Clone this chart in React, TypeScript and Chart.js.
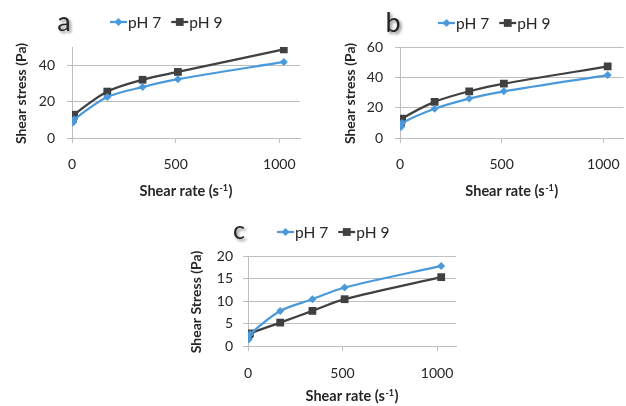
import { useEffect, useRef } from "react";
import { Chart, registerables } from "chart.js";

Chart.register(...registerables);

// ---- data ----
const shearRates = [5.1, 10.2, 170.3, 340.6, 510.9, 1021.8];
const seriesNames = ["pH 7", "pH 9"];
const aPH7 = [8.5, 10.2, 22.5, 28.0, 32.3, 41.8];
const aPH9 = [11.0, 12.8, 25.5, 32.0, 36.3, 48.7];
const bPH7 = [7.3, 9.9, 19.3, 26.0, 30.8, 41.5];
const bPH9 = [10.3, 12.7, 23.8, 30.8, 35.8, 47.2];
const cPH7 = [1.5, 2.6, 7.8, 10.4, 13.0, 17.8];
const cPH9 = [2.6, 2.8, 5.2, 7.8, 10.4, 15.3];
const xTicks = [0, 500, 1000];
const aYTicks = [0, 20, 40];
const bYTicks = [0, 20, 40, 60];
const cYTicks = [0, 5, 10, 15, 20];
const panelLetters = ["a", "b", "c"];
const yTitles = ["Shear stress (Pa)", "Shear stress (Pa)", "Shear Stress (Pa)"];
const xTitleParts = ["Shear rate (s", "-1", ")"];

const BLUE = "#4A9ADB";
const GRAY = "#404040";
const GRID = "#BFBFBF";
const TEXT = "#262626";
const FONT = "Lato";

type Geo = {
  left: number; top: number; width: number; height: number;
  padL: number; padT: number; padR: number; padB: number;
  yW: number; xH: number; yPad: number; xPad: number;
  letterX: number; letterY: number; letterSize: number;
  legendX: number; legendY: number;
  yTitleOff: number; xTitleOff: number;
};

function drawMarker(ctx: CanvasRenderingContext2D, style: string, x: number, y: number, color: string) {
  ctx.fillStyle = color;
  ctx.beginPath();
  if (style === "rectRot") {
    const r = 4;
    ctx.moveTo(x, y - r); ctx.lineTo(x + r, y); ctx.lineTo(x, y + r); ctx.lineTo(x - r, y);
    ctx.closePath();
  } else {
    const s = 3.9;
    ctx.rect(x - s, y - s, 2 * s, 2 * s);
  }
  ctx.fill();
}

function Panel(props: { p7: number[]; p9: number[]; yMax: number; yTicks: number[]; idx: number; geo: Geo }) {
  const ref = useRef<HTMLCanvasElement>(null);
  const { p7, p9, yMax, yTicks, idx, geo } = props;
  useEffect(() => {
    if (!ref.current) return;
    const styles = ["rectRot", "rect"];
    const colors = [BLUE, GRAY];
    const decor = {
      id: "decor" + idx,
      afterDraw(chart: any) {
        const ctx: CanvasRenderingContext2D = chart.ctx;
        const ca = chart.chartArea;
        ctx.save();
        // legend
        let lx = geo.legendX - geo.left;
        const ly = geo.legendY - geo.top;
        ctx.font = `15.5px ${FONT}`;
        ctx.textBaseline = "middle";
        ctx.textAlign = "left";
        seriesNames.forEach((name, i) => {
          ctx.strokeStyle = colors[i];
          ctx.lineWidth = 2.25;
          ctx.beginPath();
          ctx.moveTo(lx, ly);
          ctx.lineTo(lx + 17, ly);
          ctx.stroke();
          drawMarker(ctx, styles[i], lx + 8.5, ly, colors[i]);
          ctx.fillStyle = TEXT;
          ctx.fillText(name, lx + 18, ly + 1);
          lx += 18 + ctx.measureText(name).width + 10;
        });
        // panel letter with shadow
        ctx.save();
        ctx.shadowColor = "rgba(0,0,0,0.45)";
        ctx.shadowBlur = 3;
        ctx.shadowOffsetX = 2;
        ctx.shadowOffsetY = 2;
        ctx.font = `${geo.letterSize}px ${FONT}`;
        ctx.textAlign = "center";
        ctx.textBaseline = "alphabetic";
        ctx.fillStyle = TEXT;
        ctx.fillText(panelLetters[idx], geo.letterX - geo.left, geo.letterY - geo.top);
        ctx.restore();
        // y title
        ctx.save();
        ctx.translate(ca.left - geo.yTitleOff, (ca.top + ca.bottom) / 2 + 1);
        ctx.rotate(-Math.PI / 2);
        ctx.font = `bold 14px ${FONT}`;
        ctx.textAlign = "center";
        ctx.textBaseline = "middle";
        ctx.fillStyle = TEXT;
        ctx.fillText(yTitles[idx], 0, 0);
        ctx.restore();
        // x title with superscript
        const big = `bold 14.5px ${FONT}`;
        const small = `bold 9px ${FONT}`;
        ctx.font = big;
        const w1 = ctx.measureText(xTitleParts[0]).width;
        const w3 = ctx.measureText(xTitleParts[2]).width;
        ctx.font = small;
        const w2 = ctx.measureText(xTitleParts[1]).width;
        const total = w1 + w2 + w3 + 1;
        let tx = (ca.left + ca.right) / 2 - total / 2;
        const by = ca.bottom + geo.xTitleOff;
        ctx.textAlign = "left";
        ctx.textBaseline = "alphabetic";
        ctx.fillStyle = TEXT;
        ctx.font = big;
        ctx.fillText(xTitleParts[0], tx, by);
        tx += w1 + 0.5;
        ctx.font = small;
        ctx.fillText(xTitleParts[1], tx, by - 5.5);
        tx += w2 + 0.5;
        ctx.font = big;
        ctx.fillText(xTitleParts[2], tx, by);
        ctx.restore();
      },
    };
    const mk = (vals: number[]) => shearRates.map((x, i) => ({ x, y: vals[i] }));
    const chart = new Chart(ref.current, {
      type: "scatter",
      data: {
        datasets: [
          {
            label: seriesNames[0], data: mk(p7), showLine: true,
            borderColor: BLUE, backgroundColor: BLUE, borderWidth: 2.25,
            pointStyle: "rectRot", pointRadius: 4, pointBorderWidth: 0,
            tension: 0.3,
          },
          {
            label: seriesNames[1], data: mk(p9), showLine: true,
            borderColor: GRAY, backgroundColor: GRAY, borderWidth: 2.25,
            pointStyle: "rect", pointRadius: 5.5, pointBorderWidth: 0,
            tension: 0.3,
          },
        ],
      } as any,
      options: {
        animation: false,
        responsive: false,
        events: [],
        layout: { padding: { left: geo.padL, top: geo.padT, right: geo.padR, bottom: geo.padB } },
        plugins: { legend: { display: false }, tooltip: { enabled: false }, title: { display: false } },
        scales: {
          x: {
            type: "linear", min: 0, max: 1100,
            afterBuildTicks: (s: any) => { s.ticks = xTicks.map((v) => ({ value: v })); },
            afterFit: (s: any) => { s.height = geo.xH; },
            grid: { drawOnChartArea: false, drawTicks: true, tickLength: 5, color: GRID },
            border: { display: true, color: GRID },
            ticks: {
              padding: geo.xPad, font: { family: FONT, size: 14 }, color: TEXT, maxRotation: 0, autoSkip: false,
              callback: (v: any) => String(v),
            },
          },
          y: {
            type: "linear", min: 0, max: yMax,
            afterBuildTicks: (s: any) => { s.ticks = yTicks.map((v) => ({ value: v })); },
            afterFit: (s: any) => { s.width = geo.yW; },
            grid: { color: GRID, tickLength: 5 },
            border: { display: true, color: GRID },
            ticks: { padding: geo.yPad, font: { family: FONT, size: 14 }, color: TEXT, callback: (v: any) => String(v) },
          },
        },
      } as any,
      plugins: [decor as any],
    });
    return () => chart.destroy();
  }, []);
  return (
    <canvas
      ref={ref}
      width={geo.width}
      height={geo.height}
      style={{ position: "absolute", left: geo.left, top: geo.top, width: geo.width, height: geo.height }}
    />
  );
}

const geoA: Geo = {
  left: 0, top: 0, width: 313, height: 215,
  padL: 0, padT: 47, padR: 13, padB: 37, yW: 72, xH: 40, yPad: 12, xPad: 13,
  letterX: 64, letterY: 31, letterSize: 27, legendX: 110, legendY: 22,
  yTitleOff: 51, xTitleOff: 58,
};
const geoB: Geo = {
  left: 313, top: 0, width: 320, height: 215,
  padL: 0, padT: 47, padR: 5, padB: 37, yW: 87, xH: 40, yPad: 12, xPad: 13,
  letterX: 393, letterY: 32, letterSize: 27, legendX: 438, legendY: 23,
  yTitleOff: 50, xTitleOff: 58,
};
const geoC: Geo = {
  left: 160, top: 210, width: 320, height: 196,
  padL: 0, padT: 46, padR: 24, padB: 20, yW: 88, xH: 40, yPad: 10, xPad: 14,
  letterX: 239, letterY: 239, letterSize: 25, legendX: 277, legendY: 232,
  yTitleOff: 52, xTitleOff: 55,
};

export default function App() {
  return (
    <div style={{ position: "absolute", left: 0, top: 0, width: 626, height: 406, overflow: "hidden", background: "#fff" }}>
      <Panel p7={aPH7} p9={aPH9} yMax={50} yTicks={aYTicks} idx={0} geo={geoA} />
      <Panel p7={bPH7} p9={bPH9} yMax={60} yTicks={bYTicks} idx={1} geo={geoB} />
      <Panel p7={cPH7} p9={cPH9} yMax={20} yTicks={cYTicks} idx={2} geo={geoC} />
    </div>
  );
}
